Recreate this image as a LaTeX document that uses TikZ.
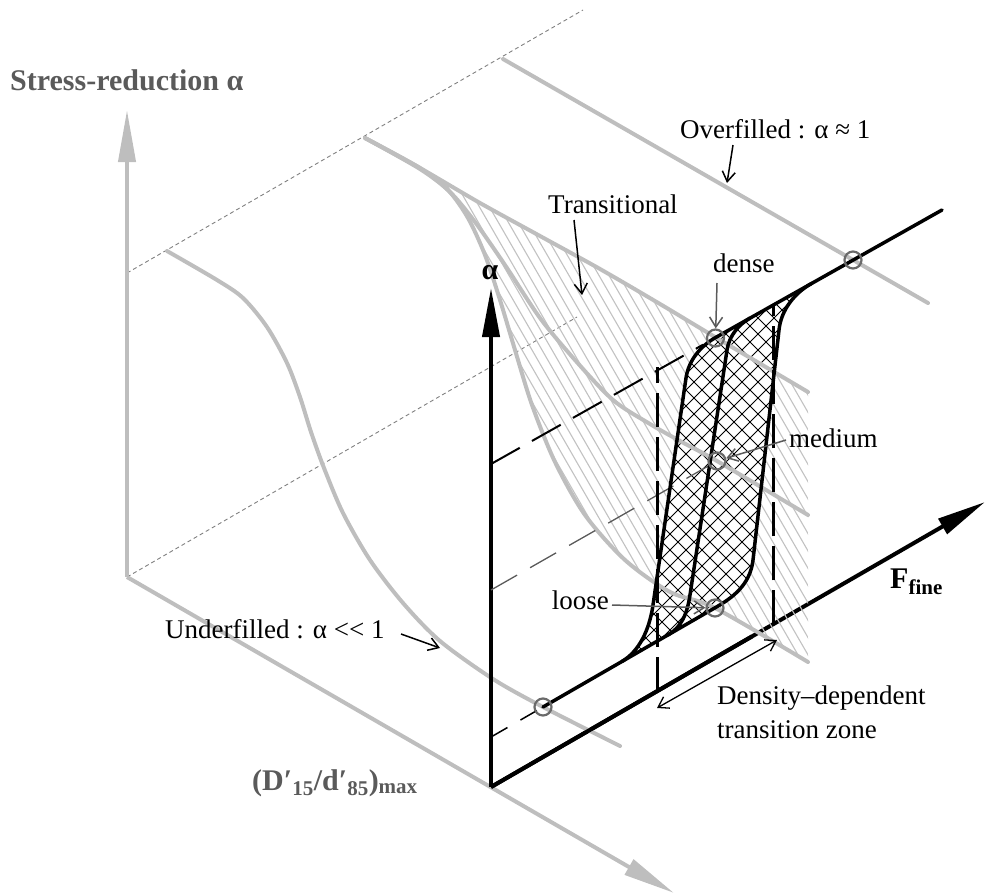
\documentclass[tikz,border=0pt]{standalone}
\usepackage{fontspec}
\setmainfont{Liberation Serif}
\usetikzlibrary{arrows.meta}
\definecolor{lg}{HTML}{BEBEBE}
\definecolor{dg}{HTML}{5A5A5A}
\definecolor{hg}{HTML}{C2C2C2}
\definecolor{cg}{HTML}{6A6A6A}
\tikzset{
  gcurve/.style={draw=lg, line width=4pt, line cap=round, line join=round},
  gaxis/.style={draw=lg, line width=4pt, -{Triangle[length=52pt,width=17pt]}},
  baxis/.style={draw=black, line width=4pt, -{Triangle[length=49pt,width=17pt]}},
  bline/.style={draw=black, line width=3.5pt, line cap=round, line join=round},
  thindash/.style={draw=gray, line width=0.9pt, dash pattern=on 4pt off 3pt},
  bdash/.style={draw=black, line width=2pt, dash pattern=on 33pt off 14pt},
  vdash/.style={draw=black, line width=3pt, dash pattern=on 34pt off 10pt},
  mdash/.style={draw=dg, line width=1.3pt, dash pattern=on 30pt off 15pt},
  ldash/.style={draw=black, line width=1.5pt, dash pattern=on 19pt off 15pt},
  ptr/.style={draw=black, line width=1.5pt, -{Straight Barb[length=10pt,width=13pt]}},
  gptr/.style={draw=dg, line width=1.5pt, -{Straight Barb[length=10pt,width=13pt]}},
  dptr/.style={draw=black, line width=1.3pt, {Straight Barb[length=10pt,width=13pt]}-{Straight Barb[length=10pt,width=13pt]}},
  ring/.style={draw=cg, line width=2.2pt, circle, minimum size=17pt, inner sep=0pt},
  hatchln/.style={draw=hg, line width=1.1pt},
  xhatch/.style={draw=black, line width=0.8pt},
  lbl/.style={font=\fontsize{27}{32}\selectfont, inner sep=0pt},
  blbl/.style={font=\fontsize{30}{36}\selectfont\bfseries, inner sep=0pt},
}
\def\looppath{(622,661.4) .. controls (639,651.5) and (649.4,630) .. (653,605) -- (686,378) .. controls (689,358) and (703,344.5) .. (716,337.3) -- (812,283.2) .. controls (794.6,292.8) and (781,310) .. (779,330) -- (753,560) .. controls (750.2,584.9) and (732.3,598) .. (715,607.8) -- cycle}
\def\Tone{(365,138) (420,168) (480,203) (540,236) (600,269) (660,304) (715,337) (808,392)}
\def\Ttwo{(365,138) (420,169) (450,192) (475,222) (505,265) (540,318) (575,360) (613,400) (650,424) (680,441) (717,461) (808,515)}
\def\Tthree{(365,138) (420,168) (448,190) (468,218) (485,255) (500,300) (515,350) (532,405) (555,462) (585,515) (625,560) (670,592) (715,608) (808,662)}
\def\Tthreerev{(808,662) (715,608) (670,592) (625,560) (585,515) (555,462) (532,405) (515,350) (500,300) (485,255) (468,218) (448,190) (420,168) (365,138)}
\begin{document}
\begin{tikzpicture}[x=1pt,y=-1pt]
\useasboundingbox (0,0) rectangle (992,894);
% named points
\coordinate (G0) at (127,577);
\coordinate (Gtop) at (127,110);
\coordinate (Gend) at (674,893);
\coordinate (B0) at (491,787);
\coordinate (Atop) at (491,288);
\coordinate (Fend) at (985,502);
% thin dashed guide lines of the back plane
\draw[thindash] (127,273) -- (583,10);
\draw[thindash] (G0) -- (577,317);
% gray axes
\draw[gaxis] (G0) -- (Gtop);
\draw[gaxis] (G0) -- (Gend);
% black F axis (below the hatch)
\draw[baxis] (B0) -- (Fend);
% hatched transitional zone
\begin{scope}
  \clip plot[smooth] coordinates {\Tone} -- plot[smooth] coordinates {\Tthreerev} -- cycle;
  \foreach \c in {0,10,...,1000} \draw[hatchln] (\c,0) -- ++(400,693);
\end{scope}
% cross-hatched loops
\fill[white] \looppath;
\begin{scope}
  \clip \looppath;
  \foreach \c in {550,566,...,1300} \draw[xhatch] (\c,270) -- ++(-420,420);
  \foreach \c in {150,166,...,850} \draw[xhatch] (\c,270) -- ++(420,420);
\end{scope}
% gray curves
\draw[gcurve] plot[smooth] coordinates {(167,251) (217,280) (243,298) (267,327) (287,363) (300,397) (311,432) (324,468) (343,513) (370,560) (403,603) (440,641) (493,679) (543,707) (620,746)};
\draw[gcurve] (503,59) -- (928,303);
\draw[gcurve] plot[smooth] coordinates {\Tone};
\draw[gcurve] plot[smooth] coordinates {\Ttwo};
\draw[gcurve] plot[smooth] coordinates {\Tthree};
% black axes on top
\draw[line width=4pt] (B0) -- (752,636.4);
\draw[baxis] (B0) -- (Atop);
% black dashed guides
\draw[bdash] (491,464) -- (703,344.7);
\draw[mdash] (491,590) -- (717,461);
\draw[ldash] (491,737) -- (543,707);
\draw[vdash] (657,691.2) -- (657,367);
\draw[vdash] (773,624.3) -- (773,305.2);
% black curves
\draw[bline] (543,707) -- (715,607.8);
\draw[bline] (716,337.3) -- (942,210);
\draw[bline] (622,661.4) .. controls (639,651.5) and (649.4,630) .. (653,605) -- (686,378) .. controls (689,358) and (703,344.5) .. (716,337.3);
\draw[bline] (668,634.9) .. controls (681,627.4) and (687,614.8) .. (690,595) -- (727,350) .. controls (729.2,335.2) and (739.5,324) .. (750,318.1);
\draw[bline] (812,283.2) .. controls (794.6,292.8) and (781,310) .. (779,330) -- (753,560) .. controls (750.2,584.9) and (732.3,598) .. (715,607.8);
% circles
\node[ring] (cu) at (543,707) {};
\node[ring] (cd) at (715.5,338) {};
\node[ring] (cm) at (717,461) {};
\node[ring] (cl) at (715,608) {};
\node[ring] (co) at (853,260) {};
% labels
\node[blbl, anchor=base west, text=dg] (tstress) at (10,90) {Stress-reduction α};
\node[blbl, anchor=base west, text=dg] (tdratio) at (252,790) {(D′\textsubscript{15}/d′\textsubscript{85})\textsubscript{max}};
\node[blbl, anchor=base west] (tf) at (890,588) {F\textsubscript{fine}};
\node[blbl, anchor=base] (talpha) at (490,279) {α};
\node[lbl, anchor=base west] (tover) at (680,138) {Overfilled : α ≈ 1};
\node[lbl, anchor=base west] (ttrans) at (548,213) {Transitional};
\node[lbl, anchor=base west] (tdense) at (713,272) {dense};
\node[lbl, anchor=base west] (tmed) at (789,447) {medium};
\node[lbl, anchor=base east] (tloose) at (609,609) {loose};
\node[lbl, anchor=base west] (tunder) at (165,638) {Underfilled : α <{}< 1};
\node[lbl, anchor=base west] (tzone1) at (717,704) {Density–dependent};
\node[lbl, anchor=base west] (tzone2) at (717,738) {transition zone};
% label arrows
\coordinate (ov1) at (733,145); \coordinate (ov2) at (727,183);
\draw[ptr] (ov1) -- (ov2);
\coordinate (tr1) at (574,220); \coordinate (tr2) at (582,295);
\draw[ptr] (tr1) -- (tr2);
\coordinate (un1) at (401,634); \coordinate (un2) at (440,648);
\draw[ptr] (un1) -- (un2);
\coordinate (ad) at (717,283); \draw[gptr] (ad) -- (cd);
\coordinate (am) at (786,440); \draw[gptr] (am) -- (cm);
\coordinate (al) at (612,605); \draw[gptr] (al) -- (cl);
\coordinate (z1) at (657,708); \coordinate (z2) at (777,640);
\draw[dptr] (z1) -- (z2);
\end{tikzpicture}
\end{document}
